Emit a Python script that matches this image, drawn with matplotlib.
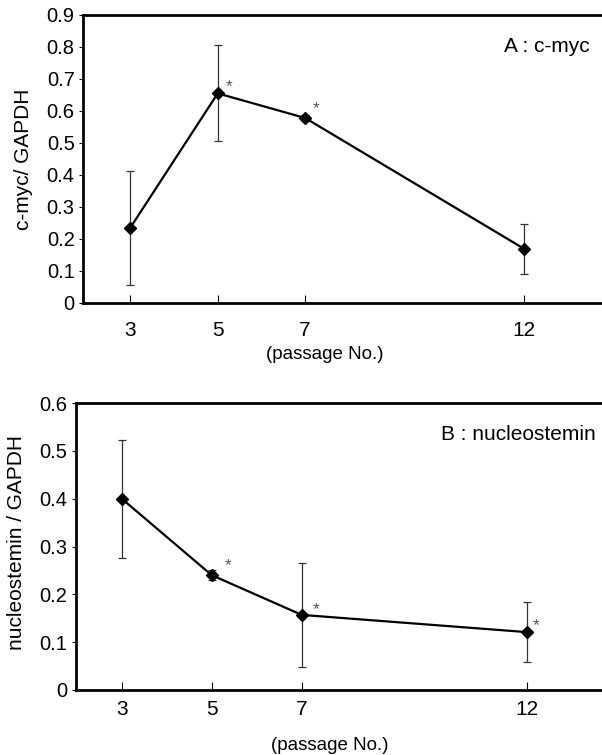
import matplotlib
matplotlib.use('Agg')
import matplotlib.pyplot as plt

plt.rcParams['font.family'] = ['Liberation Sans', 'DejaVu Sans']

passage = [3, 5, 7, 12]

# panel A : c-myc
myc_mean = [0.235, 0.655, 0.578, 0.170]
myc_err = [0.178, 0.150, 0.008, 0.078]
myc_star = [False, True, True, False]

# panel B : nucleostemin
ns_mean = [0.400, 0.240, 0.157, 0.121]
ns_err = [0.123, 0.010, 0.108, 0.062]
ns_star = [False, True, True, True]

fig = plt.figure(figsize=(6.02, 7.55), dpi=100)
ax1 = fig.add_axes([0.138, 0.5987, 0.87, 0.3815])
ax2 = fig.add_axes([0.126, 0.0861, 0.88, 0.3801])


def draw_panel(ax, mean, err, star, ylim, yticks, ylabel, tag, tag_x, xlim,
               star_off, xpad):
    ax.errorbar(passage, mean, yerr=err, color='black', lw=1.6,
                marker='D', markersize=6.5, ecolor='#333333', elinewidth=0.9,
                capsize=3, capthick=0.9)
    for x, y, s, off in zip(passage, mean, star, star_off):
        if s:
            ax.annotate('*', (x, y), xytext=off, textcoords='offset points',
                        fontsize=12.5, color='#555555', ha='center',
                        va='center')
    ax.set_xlim(*xlim)
    ax.set_ylim(*ylim)
    ax.set_xticks(passage)
    ax.set_yticks(yticks)
    ax.set_yticklabels(['0' if t == 0 else '%.1f' % t for t in yticks])
    for sp in ['left', 'top', 'bottom']:
        ax.spines[sp].set_linewidth(2)
    ax.spines['right'].set_visible(False)
    ax.tick_params(axis='x', direction='in', length=6, width=0.8,
                   labelsize=15, pad=xpad)
    ax.tick_params(axis='y', direction='out', length=3, width=0.8,
                   labelsize=14.5, pad=3)
    ax.set_ylabel(ylabel, fontsize=15, va='center')
    ax.text(tag_x, 0.89, tag, transform=ax.transAxes, fontsize=15,
            ha='right', va='center')


draw_panel(ax1, myc_mean, myc_err, myc_star, (0, 0.9),
           [0, 0.1, 0.2, 0.3, 0.4, 0.5, 0.6, 0.7, 0.8, 0.9],
           'c-myc/ GAPDH', 'A : c-myc', 0.967, (1.92, 13.9),
           [None, (8, 5), (8, 7)], 13)
ax1.yaxis.set_label_coords(-0.114, 0.50)
ax1.set_xlabel('(passage No.)', fontsize=13.5)
ax1.xaxis.set_label_coords(0.462, -0.15)

draw_panel(ax2, ns_mean, ns_err, ns_star, (0, 0.6),
           [0, 0.1, 0.2, 0.3, 0.4, 0.5, 0.6],
           'nucleostemin / GAPDH', 'B : nucleostemin', 0.982, (1.98, 13.75),
           [None, (11.5, 7), (10, 4), (7, 5)], 7)
ax2.yaxis.set_label_coords(-0.112, 0.515)
ax2.set_xlabel('(passage No.)', fontsize=13.5)
ax2.xaxis.set_label_coords(0.479, -0.165)

fig.savefig('out.png', dpi=100)
